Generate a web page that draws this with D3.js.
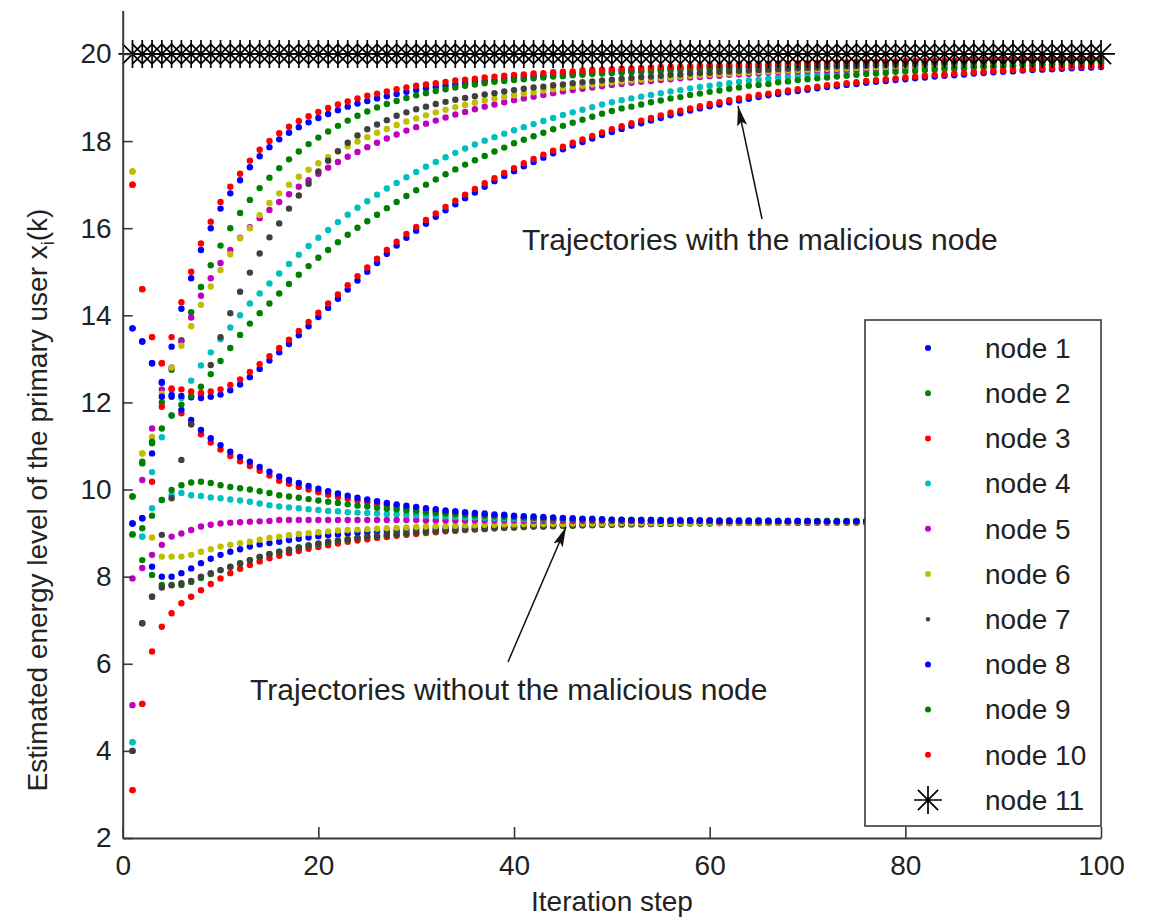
<!DOCTYPE html>
<html>
<head>
<meta charset="utf-8">
<script src="https://cdn.jsdelivr.net/npm/d3@7"></script>
<style>
  html, body { margin: 0; padding: 0; background: #fff; }
  svg { display: block; font-family: "Liberation Sans", Arial, sans-serif; }
</style>
</head>
<body>
<svg id="chart" width="1150" height="919"></svg>
<script>
// ---------------- data ----------------
const nodeLabels = ["node 1","node 2","node 3","node 4","node 5","node 6","node 7","node 8","node 9","node 10","node 11"];
const nodeColors = ["#0000ff","#008000","#ff0000","#00bfbf","#bf00bf","#bfbf00","#404040","#0000ff","#008000","#ff0000","#000000"];
const xTicks = [0, 20, 40, 60, 80, 100];
const yTicks = [2, 4, 6, 8, 10, 12, 14, 16, 18, 20];
const iterations = d3.range(1, 101); // iteration steps k = 1..100

// Trajectories WITH the malicious node (nodes 1..10)
const withNode1 = [13.7,13.4,12.9,12.47,13.28,14.15,14.85,15.5,16.0,16.45,
16.8,17.1,17.4,17.65,17.86,18.04,18.19,18.32,18.43,18.53,
18.62,18.71,18.79,18.86,18.92,18.98,19.03,19.08,19.13,19.17,
19.21,19.24,19.27,19.3,19.33,19.36,19.38,19.4,19.43,19.45,
19.47,19.49,19.5,19.52,19.53,19.55,19.56,19.58,19.59,19.6,
19.61,19.62,19.63,19.64,19.65,19.66,19.67,19.68,19.69,19.7,
19.7,19.71,19.72,19.72,19.73,19.74,19.74,19.75,19.75,19.76,
19.76,19.77,19.77,19.78,19.78,19.79,19.79,19.8,19.8,19.8,
19.81,19.81,19.82,19.82,19.82,19.83,19.83,19.83,19.84,19.84,
19.84,19.85,19.85,19.85,19.85,19.86,19.86,19.86,19.87,19.87];
const withNode2 = [9.84,10.64,11.06,12.0,12.75,13.43,14.07,14.65,15.15,15.6,
16.0,16.35,16.65,16.92,17.16,17.38,17.58,17.76,17.93,18.08,
18.22,18.35,18.47,18.58,18.68,18.77,18.85,18.92,18.99,19.05,
19.1,19.15,19.19,19.23,19.27,19.3,19.33,19.36,19.38,19.4,
19.42,19.44,19.46,19.48,19.49,19.51,19.52,19.54,19.55,19.56,
19.57,19.58,19.59,19.6,19.61,19.62,19.63,19.64,19.65,19.66,
19.67,19.67,19.68,19.69,19.7,19.7,19.71,19.71,19.72,19.73,
19.73,19.74,19.74,19.75,19.75,19.76,19.76,19.77,19.77,19.78,
19.78,19.79,19.79,19.79,19.8,19.8,19.8,19.81,19.81,19.81,
19.82,19.82,19.82,19.83,19.83,19.83,19.84,19.84,19.84,19.85];
const withNode3 = [17.0,14.6,13.5,12.9,13.5,14.3,15.0,15.65,16.15,16.6,
16.95,17.25,17.55,17.8,18.0,18.18,18.33,18.46,18.57,18.67,
18.76,18.84,18.91,18.98,19.04,19.09,19.14,19.19,19.23,19.27,
19.3,19.33,19.36,19.39,19.41,19.43,19.46,19.48,19.5,19.52,
19.53,19.55,19.56,19.58,19.59,19.6,19.62,19.63,19.64,19.65,
19.66,19.67,19.68,19.69,19.7,19.71,19.71,19.72,19.73,19.74,
19.74,19.75,19.76,19.76,19.77,19.77,19.78,19.78,19.79,19.79,
19.8,19.8,19.81,19.81,19.82,19.82,19.82,19.83,19.83,19.84,
19.84,19.84,19.85,19.85,19.85,19.86,19.86,19.86,19.87,19.87,
19.87,19.88,19.88,19.88,19.88,19.89,19.89,19.89,19.9,19.9];
const withNode4 = [4.2,8.92,10.4,11.2,11.7,12.1,12.5,12.85,13.15,13.45,
13.72,14.0,14.27,14.5,14.73,14.96,15.18,15.39,15.59,15.78,
15.96,16.14,16.31,16.47,16.62,16.77,16.91,17.04,17.17,17.29,
17.41,17.52,17.63,17.73,17.83,17.92,18.01,18.09,18.17,18.25,
18.32,18.39,18.46,18.53,18.6,18.66,18.72,18.78,18.84,18.89,
18.94,18.98,19.02,19.06,19.1,19.14,19.17,19.21,19.24,19.27,
19.3,19.33,19.36,19.39,19.41,19.43,19.46,19.48,19.5,19.52,
19.54,19.55,19.57,19.59,19.6,19.62,19.63,19.64,19.66,19.67,
19.68,19.69,19.7,19.71,19.72,19.73,19.74,19.75,19.75,19.76,
19.77,19.78,19.78,19.79,19.8,19.8,19.81,19.81,19.82,19.82];
const withNode5 = [5.05,10.22,11.4,12.3,12.8,13.4,13.95,14.45,14.85,15.2,
15.5,15.78,16.02,16.23,16.42,16.6,16.78,16.95,17.1,17.25,
17.39,17.52,17.64,17.75,17.86,17.96,18.06,18.15,18.24,18.32,
18.4,18.47,18.54,18.61,18.67,18.73,18.79,18.84,18.89,18.94,
18.98,19.02,19.06,19.1,19.14,19.17,19.2,19.23,19.26,19.29,
19.31,19.34,19.36,19.38,19.4,19.42,19.44,19.46,19.47,19.49,
19.5,19.52,19.53,19.54,19.55,19.57,19.58,19.59,19.6,19.61,
19.62,19.62,19.63,19.64,19.65,19.66,19.66,19.67,19.68,19.68,
19.69,19.7,19.7,19.71,19.71,19.72,19.72,19.73,19.73,19.74,
19.74,19.75,19.75,19.75,19.76,19.76,19.77,19.77,19.77,19.78];
const withNode6 = [17.3,10.83,11.21,12.2,12.8,13.3,13.75,14.24,14.66,15.04,
15.4,15.77,16.0,16.3,16.58,16.8,17.0,17.18,17.34,17.49,
17.63,17.76,17.88,17.99,18.09,18.19,18.28,18.37,18.45,18.52,
18.59,18.66,18.72,18.78,18.83,18.88,18.93,18.97,19.01,19.05,
19.09,19.12,19.16,19.19,19.22,19.25,19.27,19.3,19.32,19.35,
19.37,19.39,19.41,19.43,19.45,19.46,19.48,19.5,19.51,19.53,
19.54,19.55,19.57,19.58,19.59,19.6,19.61,19.62,19.63,19.64,
19.65,19.66,19.66,19.67,19.68,19.69,19.69,19.7,19.71,19.71,
19.72,19.72,19.73,19.73,19.74,19.74,19.75,19.75,19.76,19.76,
19.77,19.77,19.77,19.78,19.78,19.78,19.79,19.79,19.79,19.8];
const withNode7 = [4.0,6.93,7.54,8.96,9.8,10.68,11.5,12.2,12.86,13.5,
14.05,14.54,14.98,15.42,15.79,16.11,16.45,16.75,17.02,17.3,
17.55,17.77,17.96,18.13,18.27,18.38,18.48,18.58,18.66,18.73,
18.79,18.85,18.9,18.95,18.99,19.03,19.07,19.1,19.14,19.17,
19.2,19.23,19.25,19.28,19.3,19.33,19.35,19.37,19.39,19.41,
19.43,19.45,19.47,19.48,19.5,19.52,19.53,19.55,19.56,19.57,
19.59,19.6,19.61,19.62,19.63,19.64,19.65,19.66,19.67,19.68,
19.69,19.7,19.71,19.71,19.72,19.73,19.74,19.74,19.75,19.76,
19.76,19.77,19.78,19.78,19.79,19.79,19.8,19.8,19.81,19.81,
19.82,19.82,19.83,19.83,19.84,19.84,19.84,19.85,19.85,19.86];
const withNode8 = [9.22,9.34,10.83,12.13,12.17,12.15,12.12,12.1,12.13,12.18,
12.28,12.41,12.58,12.77,12.96,13.15,13.34,13.54,13.75,13.96,
14.17,14.38,14.59,14.8,15.0,15.2,15.41,15.6,15.78,15.94,
16.1,16.26,16.41,16.55,16.69,16.82,16.95,17.08,17.2,17.31,
17.42,17.52,17.62,17.72,17.81,17.9,17.98,18.06,18.14,18.21,
18.28,18.35,18.41,18.47,18.53,18.59,18.64,18.7,18.75,18.8,
18.84,18.89,18.93,18.97,19.01,19.05,19.08,19.12,19.15,19.18,
19.21,19.24,19.26,19.29,19.31,19.34,19.36,19.38,19.4,19.42,
19.44,19.46,19.48,19.5,19.51,19.53,19.55,19.56,19.58,19.59,
19.6,19.62,19.63,19.64,19.65,19.66,19.67,19.68,19.69,19.7];
const withNode9 = [8.97,10.6,11.1,11.4,11.7,11.95,12.15,12.36,12.65,12.95,
13.25,13.55,13.81,14.05,14.27,14.5,14.72,14.93,15.13,15.32,
15.5,15.68,15.85,16.01,16.16,16.31,16.46,16.6,16.74,16.87,
17.0,17.12,17.24,17.35,17.46,17.56,17.66,17.76,17.85,17.95,
18.03,18.11,18.19,18.27,18.35,18.42,18.49,18.56,18.63,18.69,
18.75,18.79,18.84,18.89,18.93,18.98,19.01,19.06,19.09,19.13,
19.16,19.2,19.23,19.27,19.29,19.31,19.35,19.37,19.4,19.42,
19.44,19.46,19.48,19.5,19.52,19.54,19.55,19.56,19.59,19.6,
19.61,19.63,19.64,19.65,19.66,19.67,19.69,19.7,19.7,19.71,
19.72,19.74,19.74,19.75,19.76,19.76,19.78,19.78,19.79,19.79];
const withNode10 = [3.1,5.08,10.18,11.9,12.32,12.3,12.25,12.22,12.25,12.3,
12.4,12.53,12.7,12.88,13.06,13.25,13.44,13.64,13.85,14.06,
14.27,14.48,14.69,14.9,15.1,15.3,15.5,15.69,15.87,16.03,
16.19,16.34,16.49,16.63,16.77,16.9,17.03,17.15,17.27,17.38,
17.49,17.59,17.69,17.78,17.87,17.96,18.04,18.12,18.2,18.27,
18.34,18.41,18.47,18.53,18.59,18.65,18.7,18.75,18.8,18.85,
18.89,18.94,18.98,19.02,19.06,19.09,19.13,19.16,19.19,19.22,
19.25,19.28,19.3,19.33,19.35,19.38,19.4,19.42,19.44,19.46,
19.48,19.5,19.52,19.53,19.55,19.56,19.58,19.59,19.61,19.62,
19.63,19.64,19.66,19.67,19.68,19.69,19.7,19.71,19.72,19.73];

// Trajectories WITHOUT the malicious node (nodes 1..10)
const withoutNode1 = [13.7,13.4,12.9,12.45,12.13,11.83,11.6,11.37,11.18,11.02,
10.87,10.75,10.64,10.52,10.41,10.3,10.22,10.15,10.08,10.02,
9.96,9.91,9.86,9.81,9.77,9.73,9.69,9.66,9.63,9.6,
9.57,9.55,9.52,9.5,9.48,9.46,9.45,9.43,9.42,9.4,
9.39,9.38,9.37,9.36,9.35,9.34,9.33,9.33,9.32,9.31,
9.31,9.3,9.3,9.3,9.29,9.29,9.29,9.29,9.29,9.29,
9.28,9.28,9.28,9.28,9.28,9.28,9.28,9.28,9.28,9.28,
9.27,9.27,9.27,9.27,9.27,9.27,9.27,9.27,9.27,9.27,
9.27,9.27,9.27,9.27,9.27,9.27,9.27,9.27,9.27,9.27,
9.27,9.27,9.27,9.27,9.27,9.27,9.27,9.27,9.27,9.27];
const withoutNode2 = [9.84,9.11,9.4,9.76,9.99,10.1,10.16,10.18,10.15,10.1,
10.06,10.03,10.0,9.96,9.92,9.87,9.84,9.81,9.78,9.75,
9.72,9.69,9.66,9.63,9.61,9.58,9.56,9.54,9.52,9.5,
9.48,9.46,9.45,9.43,9.42,9.41,9.4,9.39,9.38,9.37,
9.36,9.35,9.34,9.33,9.33,9.32,9.32,9.31,9.31,9.3,
9.3,9.3,9.3,9.3,9.3,9.29,9.29,9.29,9.29,9.29,
9.29,9.29,9.29,9.29,9.29,9.28,9.28,9.28,9.28,9.28,
9.28,9.28,9.28,9.28,9.28,9.28,9.28,9.28,9.28,9.28,
9.27,9.27,9.27,9.27,9.27,9.27,9.27,9.27,9.27,9.27,
9.27,9.27,9.27,9.27,9.27,9.27,9.27,9.27,9.27,9.27];
const withoutNode3 = [17.0,14.6,13.5,12.9,12.3,11.75,11.5,11.27,11.08,10.92,
10.77,10.65,10.54,10.43,10.32,10.2,10.13,10.06,10.0,9.94,
9.88,9.83,9.79,9.75,9.71,9.67,9.64,9.61,9.58,9.55,
9.53,9.5,9.48,9.46,9.44,9.42,9.41,9.39,9.38,9.37,
9.36,9.35,9.34,9.33,9.32,9.31,9.31,9.3,9.3,9.29,
9.29,9.29,9.28,9.28,9.28,9.28,9.28,9.28,9.28,9.28,
9.27,9.27,9.27,9.27,9.27,9.27,9.27,9.27,9.27,9.27,
9.27,9.27,9.27,9.27,9.27,9.27,9.27,9.27,9.27,9.27,
9.27,9.27,9.27,9.27,9.27,9.27,9.27,9.27,9.27,9.27,
9.27,9.27,9.27,9.27,9.27,9.27,9.27,9.27,9.27,9.27];
const withoutNode4 = [4.2,8.92,9.57,9.76,9.87,9.92,9.87,9.85,9.82,9.8,
9.77,9.75,9.72,9.68,9.64,9.61,9.59,9.57,9.55,9.53,
9.51,9.5,9.48,9.47,9.46,9.45,9.44,9.43,9.42,9.41,
9.4,9.39,9.38,9.37,9.36,9.36,9.35,9.34,9.34,9.33,
9.32,9.32,9.32,9.32,9.32,9.31,9.31,9.31,9.31,9.31,
9.3,9.3,9.3,9.3,9.3,9.3,9.3,9.3,9.29,9.29,
9.29,9.29,9.29,9.29,9.29,9.29,9.28,9.28,9.28,9.28,
9.28,9.28,9.28,9.28,9.28,9.28,9.28,9.28,9.28,9.28,
9.27,9.27,9.27,9.27,9.27,9.27,9.27,9.27,9.27,9.27,
9.27,9.27,9.27,9.27,9.27,9.27,9.27,9.27,9.27,9.27];
const withoutNode5 = [7.96,8.2,8.5,8.73,8.92,8.99,9.07,9.15,9.19,9.22,
9.24,9.25,9.26,9.27,9.28,9.3,9.3,9.3,9.3,9.3,
9.3,9.3,9.3,9.3,9.3,9.3,9.3,9.3,9.3,9.3,
9.29,9.29,9.29,9.29,9.29,9.29,9.29,9.29,9.29,9.29,
9.28,9.28,9.28,9.28,9.28,9.28,9.28,9.28,9.28,9.28,
9.28,9.28,9.28,9.28,9.28,9.28,9.28,9.28,9.28,9.28,
9.27,9.27,9.27,9.27,9.27,9.27,9.27,9.27,9.27,9.27,
9.27,9.27,9.27,9.27,9.27,9.27,9.27,9.27,9.27,9.27,
9.27,9.27,9.27,9.27,9.27,9.27,9.27,9.27,9.27,9.27,
9.27,9.27,9.27,9.27,9.27,9.27,9.27,9.27,9.27,9.27];
const withoutNode6 = [17.3,10.83,8.9,8.46,8.46,8.46,8.5,8.57,8.63,8.69,
8.73,8.77,8.8,8.85,8.89,8.92,8.95,8.98,9.0,9.02,
9.04,9.06,9.07,9.08,9.09,9.1,9.11,9.12,9.13,9.14,
9.15,9.16,9.16,9.17,9.18,9.18,9.19,9.19,9.2,9.2,
9.21,9.21,9.21,9.21,9.21,9.22,9.22,9.22,9.22,9.22,
9.23,9.23,9.23,9.23,9.23,9.23,9.23,9.23,9.24,9.24,
9.24,9.24,9.24,9.24,9.24,9.24,9.24,9.24,9.25,9.25,
9.25,9.25,9.25,9.25,9.25,9.25,9.25,9.25,9.25,9.25,
9.26,9.26,9.26,9.26,9.26,9.26,9.26,9.26,9.26,9.26,
9.26,9.26,9.26,9.26,9.26,9.26,9.26,9.26,9.26,9.26];
const withoutNode7 = [4.0,6.93,7.54,7.75,7.8,7.85,7.9,8.0,8.08,8.15,
8.22,8.3,8.38,8.45,8.52,8.57,8.62,8.67,8.72,8.76,
8.8,8.83,8.86,8.89,8.92,8.94,8.96,8.98,9.0,9.02,
9.04,9.05,9.07,9.08,9.09,9.1,9.11,9.12,9.13,9.14,
9.15,9.16,9.16,9.17,9.18,9.18,9.19,9.19,9.2,9.2,
9.21,9.21,9.21,9.22,9.22,9.22,9.22,9.23,9.23,9.23,
9.23,9.23,9.24,9.24,9.24,9.24,9.24,9.24,9.25,9.25,
9.25,9.25,9.25,9.25,9.25,9.25,9.25,9.25,9.25,9.25,
9.25,9.25,9.25,9.25,9.25,9.26,9.26,9.26,9.26,9.26,
9.26,9.26,9.26,9.26,9.26,9.26,9.26,9.26,9.26,9.26];
const withoutNode8 = [9.22,9.34,8.23,8.0,8.0,8.08,8.19,8.31,8.41,8.5,
8.57,8.63,8.69,8.74,8.77,8.8,8.84,8.87,8.9,8.93,
8.95,8.97,8.99,9.01,9.02,9.04,9.05,9.06,9.08,9.09,
9.1,9.11,9.12,9.13,9.13,9.14,9.15,9.16,9.16,9.17,
9.18,9.18,9.19,9.19,9.2,9.2,9.2,9.21,9.21,9.21,
9.22,9.22,9.22,9.22,9.23,9.23,9.23,9.23,9.23,9.24,
9.24,9.24,9.24,9.24,9.24,9.24,9.24,9.24,9.24,9.24,
9.25,9.25,9.25,9.25,9.25,9.25,9.25,9.25,9.25,9.25,
9.25,9.25,9.25,9.25,9.25,9.26,9.26,9.26,9.26,9.26,
9.26,9.26,9.26,9.26,9.26,9.26,9.26,9.26,9.26,9.26];
const withoutNode9 = [8.97,8.38,8.04,7.81,7.81,7.81,7.88,7.97,8.06,8.15,
8.23,8.31,8.38,8.45,8.51,8.57,8.62,8.67,8.71,8.75,
8.79,8.82,8.85,8.88,8.91,8.93,8.95,8.97,8.99,9.01,
9.03,9.04,9.06,9.07,9.08,9.09,9.1,9.11,9.12,9.13,
9.14,9.15,9.15,9.16,9.17,9.17,9.18,9.18,9.19,9.19,
9.2,9.2,9.2,9.21,9.21,9.21,9.22,9.22,9.22,9.22,
9.23,9.23,9.23,9.23,9.23,9.24,9.24,9.24,9.24,9.24,
9.24,9.24,9.24,9.24,9.24,9.24,9.24,9.24,9.24,9.24,
9.25,9.25,9.25,9.25,9.25,9.25,9.25,9.25,9.25,9.25,
9.26,9.26,9.26,9.26,9.26,9.26,9.26,9.26,9.26,9.26];
const withoutNode10 = [3.1,5.08,6.28,6.85,7.16,7.39,7.54,7.69,7.83,7.96,
8.08,8.18,8.27,8.35,8.42,8.48,8.54,8.59,8.64,8.68,
8.72,8.76,8.8,8.83,8.86,8.89,8.91,8.94,8.96,8.98,
9.0,9.02,9.04,9.05,9.07,9.08,9.09,9.11,9.12,9.13,
9.14,9.15,9.15,9.16,9.17,9.18,9.18,9.19,9.19,9.2,
9.2,9.21,9.21,9.21,9.22,9.22,9.22,9.23,9.23,9.23,
9.23,9.24,9.24,9.24,9.24,9.24,9.25,9.25,9.25,9.25,
9.25,9.25,9.25,9.25,9.25,9.25,9.25,9.25,9.25,9.25,
9.25,9.25,9.25,9.25,9.25,9.26,9.26,9.26,9.26,9.26,
9.26,9.26,9.26,9.26,9.26,9.26,9.26,9.26,9.26,9.26];

// Node 11 (malicious node) holds its value
const node11 = [20,20,20,20,20,20,20,20,20,20,20,20,20,20,20,20,20,20,20,20,
20,20,20,20,20,20,20,20,20,20,20,20,20,20,20,20,20,20,20,20,
20,20,20,20,20,20,20,20,20,20,20,20,20,20,20,20,20,20,20,20,
20,20,20,20,20,20,20,20,20,20,20,20,20,20,20,20,20,20,20,20,
20,20,20,20,20,20,20,20,20,20,20,20,20,20,20,20,20,20,20,20];

const withSeries = [withNode1,withNode2,withNode3,withNode4,withNode5,withNode6,withNode7,withNode8,withNode9,withNode10];
const withoutSeries = [withoutNode1,withoutNode2,withoutNode3,withoutNode4,withoutNode5,withoutNode6,withoutNode7,withoutNode8,withoutNode9,withoutNode10];

// ---------------- drawing ----------------
const svg = d3.select("#chart");
const plot = { left: 122.7, right: 1101, top: 10.4, bottom: 838 };
const x = d3.scaleLinear().domain([0, 100]).range([plot.left, plot.right]);
const y = d3.scaleLinear().domain([2, 21]).range([plot.bottom, plot.top]);
const axisColor = "#3a3a3a";
const fontSize = 28;
const dotR = 3.2;

// dots: without-malicious (drawn in reverse so node 1 lands on top), then with-malicious
const dotLayer = svg.append("g");
for (let i = withoutSeries.length - 1; i >= 0; i--) {
  dotLayer.append("g").selectAll("circle")
    .data(withoutSeries[i].map((v, j) => [iterations[j], v]))
    .join("circle")
    .attr("cx", d => x(d[0])).attr("cy", d => y(d[1]))
    .attr("r", dotR).attr("fill", nodeColors[i]);
}
withSeries.forEach((s, i) => {
  dotLayer.append("g").selectAll("circle")
    .data(s.map((v, j) => [iterations[j], v]))
    .join("circle")
    .attr("cx", d => x(d[0])).attr("cy", d => y(d[1]))
    .attr("r", dotR).attr("fill", nodeColors[i]);
});

// asterisk marker
function asterisk(r) {
  const d = r * 0.72;
  return `M0,${-r}L0,${r}M${-r},0L${r},0M${-d},${-d}L${d},${d}M${-d},${d}L${d},${-d}`;
}
svg.append("g").selectAll("path")
  .data(node11.map((v, j) => [iterations[j], v]))
  .join("path")
  .attr("transform", d => `translate(${x(d[0])},${y(d[1])})`)
  .attr("d", asterisk(14))
  .attr("stroke", "#000").attr("stroke-width", 1.7).attr("fill", "none");

// axes (ticks inward, no box)
const yAxis = d3.axisLeft(y).tickValues(yTicks).tickSizeInner(-10).tickSizeOuter(0).tickPadding(11);
const xAxis = d3.axisBottom(x).tickValues(xTicks).tickSizeInner(-11).tickSizeOuter(0).tickPadding(17);
const gy = svg.append("g").attr("transform", `translate(${plot.left},0)`).call(yAxis);
const gx = svg.append("g").attr("transform", `translate(0,${plot.bottom})`).call(xAxis);
[gx, gy].forEach(g => {
  g.select(".domain").attr("stroke", axisColor).attr("stroke-width", 2);
  g.selectAll(".tick line").attr("stroke", axisColor).attr("stroke-width", 1.6);
  g.selectAll(".tick text").attr("fill", "#222").attr("font-size", fontSize)
    .attr("font-family", "'Liberation Sans', Arial, sans-serif");
});

// axis titles
svg.append("text").attr("x", 612).attr("y", 911).attr("text-anchor", "middle")
  .attr("font-size", 28).attr("fill", "#222").text("Iteration step");
const yl = svg.append("text").attr("transform", "translate(47,500) rotate(-90)")
  .attr("text-anchor", "middle").attr("font-size", 28).attr("fill", "#222");
yl.append("tspan").text("Estimated energy level of the primary user x");
yl.append("tspan").attr("font-size", 18).attr("dy", 7).text("i");
yl.append("tspan").attr("dy", -7).text("(k)");

// annotations with arrows
const defs = svg.append("defs");
defs.append("marker").attr("id", "arrowhead").attr("viewBox", "0 0 20 10")
  .attr("refX", 20).attr("refY", 5).attr("markerWidth", 20).attr("markerHeight", 10)
  .attr("markerUnits", "userSpaceOnUse").attr("orient", "auto")
  .append("path").attr("d", "M0,0L20,5L0,10L4,5Z").attr("fill", "#111");

svg.append("line").attr("x1", 762).attr("y1", 219).attr("x2", 738).attr("y2", 106)
  .attr("stroke", "#111").attr("stroke-width", 1.5).attr("marker-end", "url(#arrowhead)");
svg.append("text").attr("x", 522).attr("y", 250).attr("font-size", 30).attr("fill", "#222")
  .text("Trajectories with the malicious node");

svg.append("line").attr("x1", 508).attr("y1", 662).attr("x2", 566).attr("y2", 527)
  .attr("stroke", "#111").attr("stroke-width", 1.5).attr("marker-end", "url(#arrowhead)");
svg.append("text").attr("x", 250).attr("y", 700).attr("font-size", 30).attr("fill", "#222")
  .text("Trajectories without the malicious node");

// legend (opaque box over the plot)
const lg = svg.append("g");
lg.append("rect").attr("x", 865).attr("y", 320).attr("width", 242).attr("height", 506)
  .attr("fill", "#fff");
lg.append("rect").attr("x", 865).attr("y", 320).attr("width", 236).attr("height", 506)
  .attr("fill", "#fff").attr("stroke", axisColor).attr("stroke-width", 1.6);
const rowY = d3.scaleLinear().domain([0, 10]).range([348, 800]);
nodeLabels.forEach((lab, i) => {
  const cy = rowY(i);
  if (i < 10) {
    lg.append("circle").attr("cx", 928).attr("cy", cy).attr("r", i === 6 ? 2.2 : 3).attr("fill", nodeColors[i]);
  } else {
    lg.append("path").attr("transform", `translate(928,${cy})`).attr("d", asterisk(14))
      .attr("stroke", "#000").attr("stroke-width", 1.7).attr("fill", "none");
  }
  lg.append("text").attr("x", 985).attr("y", cy).attr("dy", "0.35em")
    .attr("font-size", fontSize).attr("fill", "#222").text(lab);
});
</script>
</body>
</html>
